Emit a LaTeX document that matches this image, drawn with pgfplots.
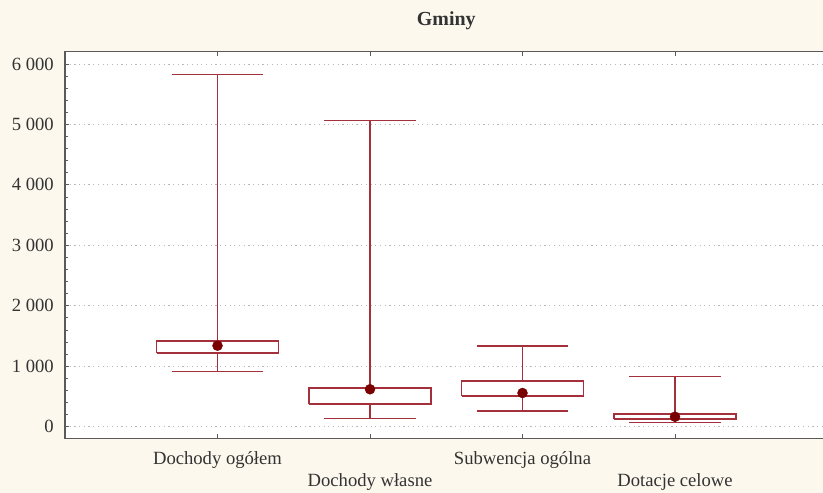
\documentclass[border=0pt]{standalone}
\usepackage{pgfplots}
\pgfplotsset{compat=1.18}
\usepackage{fontspec}
\setmainfont{Liberation Serif}
\definecolor{bgcol}{HTML}{FCF8EE}
\definecolor{boxcol}{HTML}{A3303A}
\definecolor{dotcol}{HTML}{7A0000}
\definecolor{axgray}{HTML}{5A5A5A}
\definecolor{gridgray}{HTML}{B8B8B8}
\definecolor{txtgray}{HTML}{333333}
\begin{document}
\begin{tikzpicture}
\fill[bgcol] (-65bp,-54.7bp) rectangle (758bp,438.3bp);
\begin{axis}[
  scale only axis, width=762.5bp, height=386.6bp,
  xmin=-1, xmax=4, ymin=-192, ymax=6203,
  axis background/.style={fill=white},
  axis line style={draw=axgray, line width=1.3bp},
  every tick/.style={axgray, line width=0.8bp},
  major tick length=4.5bp, minor tick length=3bp,
  tick align=inside,
  ytick={0,1000,...,6000}, minor y tick num=4,
  ymajorgrids,
  major grid style={draw=gridgray, dash pattern=on 1.2bp off 3.5bp, line width=0.9bp},
  xtick={0,2}, xticklabels={Dochody ogółem, Subwencja ogólna},
  extra x ticks={1,3}, extra x tick labels={Dochody własne, Dotacje celowe},
  extra x tick style={xticklabel style={yshift=-22.3bp}, grid=none},
  tick label style={font=\fontsize{18.7}{21}\selectfont, text=txtgray},
  xticklabel style={inner sep=0pt, anchor=north, yshift=-13bp},
  yticklabel style={inner sep=0pt, anchor=east, xshift=-11bp},
  /pgf/number format/1000 sep={\ },
  /pgf/number format/assume math mode=true,
  title={Gminy},
  title style={font=\fontsize{20}{24}\selectfont\bfseries, text=txtgray, at={(0.5,1)}, anchor=base, yshift=20.7bp, inner sep=0pt},
  unbounded coords=jump,
  clip=false,
]
% boxes (lower quartile / upper quartile)
\addplot[draw=boxcol, line width=1.9bp, line join=miter, mark=none] coordinates {
 (-0.4,1224) (0.4,1224) (0.4,1423) (-0.4,1423) (-0.4,1224) (nan,nan)
 (0.6,371) (1.4,371) (1.4,635) (0.6,635) (0.6,371) (nan,nan)
 (1.6,508) (2.4,508) (2.4,756) (1.6,756) (1.6,508) (nan,nan)
 (2.6,127) (3.4,127) (3.4,205) (2.6,205) (2.6,127)
};
% whiskers and caps
\addplot[draw=boxcol, line width=1.3bp, mark=none] coordinates {
 (0,1423) (0,5830) (nan,nan) (-0.3,5830) (0.3,5830) (nan,nan)
 (0,1224) (0,910) (nan,nan) (-0.3,910) (0.3,910) (nan,nan)
 (1,635) (1,5070) (nan,nan) (0.7,5070) (1.3,5070) (nan,nan)
 (1,371) (1,139) (nan,nan) (0.7,139) (1.3,139) (nan,nan)
 (2,756) (2,1335) (nan,nan) (1.7,1335) (2.3,1335) (nan,nan)
 (2,508) (2,260) (nan,nan) (1.7,260) (2.3,260) (nan,nan)
 (3,205) (3,827) (nan,nan) (2.7,827) (3.3,827) (nan,nan)
 (3,127) (3,66) (nan,nan) (2.7,66) (3.3,66)
};
\addplot[only marks, mark=*, mark size=5bp, color=dotcol] coordinates {(0,1340) (1,619) (2,557) (3,165)};
\end{axis}
\pgfresetboundingbox
\useasboundingbox (-65bp,-54.7bp) rectangle (758bp,438.3bp);
\end{tikzpicture}
\end{document}
